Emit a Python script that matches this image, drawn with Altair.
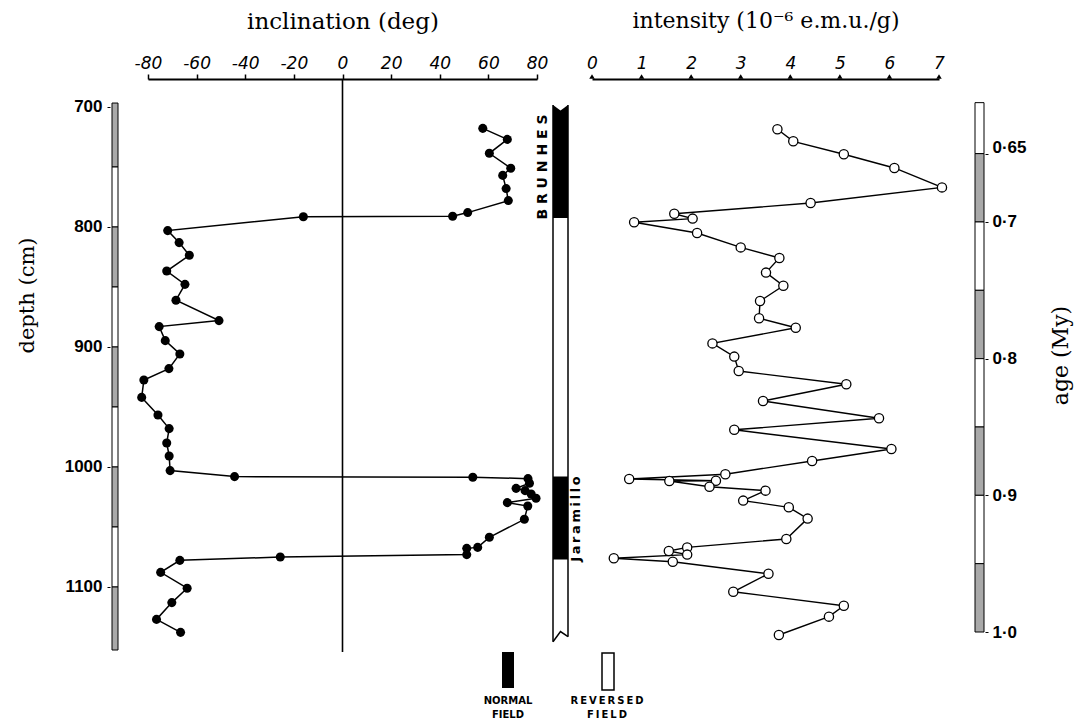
import altair as alt
import pandas as pd

# ---------------- data ----------------
inc_depth = [717.8, 727, 738.6, 751, 757, 768, 778, 788, 791, 791.5, 803, 813, 823.6,
             836.7, 847.8, 861, 878, 883, 894.7, 905.8, 918, 927.5, 942, 956.7, 968,
             980, 990.8, 1003, 1008, 1008.5, 1009.7, 1013.6, 1017.8, 1019.7, 1022.5,
             1026, 1029.7, 1032.5, 1043.6, 1058.6, 1067, 1067.8, 1073, 1075, 1077.8,
             1087.8, 1101, 1113, 1127, 1137.8]
inc_value = [57.7, 67.8, 60.4, 69.2, 65.9, 67.3, 68.2, 51.5, 45.3, -16.1, -71.9, -67.2,
             -63.0, -72.3, -64.8, -68.5, -50.8, -75.4, -72.9, -66.9, -71.4, -81.7, -82.6,
             -75.9, -71.3, -72.3, -71.3, -70.9, -44.4, 53.6, 76.3, 76.9, 71.4, 75.1, 77.6,
             79.6, 67.8, 76.2, 74.8, 60.4, 55.6, 51.1, 51.1, -25.6, -66.9, -74.8, -63.9,
             -70.2, -76.5, -66.6]

int_depth = [718.6, 728.6, 739.4, 750.8, 767, 780, 789, 793, 796, 805, 817, 825.8, 838,
             849, 861.7, 876, 884, 897, 908, 920, 931, 945, 959.4, 969, 985, 995, 1006,
             1010, 1011.4, 1011.7, 1016.4, 1019.7, 1028, 1033.6, 1043, 1060, 1067, 1070,
             1073, 1076, 1079, 1089, 1104, 1115.6, 1124.7, 1140]
int_value = [3.74, 4.06, 5.08, 6.10, 7.06, 4.41, 1.66, 2.03, 0.85, 2.12, 3.0, 3.78, 3.51,
             3.86, 3.39, 3.37, 4.11, 2.43, 2.87, 2.96, 5.13, 3.45, 5.79, 2.87, 6.04, 4.44,
             2.69, 0.75, 2.5, 1.56, 2.37, 3.50, 3.05, 3.97, 4.35, 3.92, 1.92, 1.55, 1.92,
             0.44, 1.63, 3.56, 2.85, 5.08, 4.78, 3.77]

# polarity column (depth, cm)
normal_top = [698.3, 1008]
normal_bot = [792.5, 1077]
column_top = 698.3
column_bot_left = 1145.6
column_bot_mid = 1137.2
column_bot_right = 1141.4
notch_apex = 703

# depth ruler segments (cm)
depth_seg_top = [696.7, 750, 800, 850, 900, 950, 1000, 1050, 1100]
depth_seg_bot = [750, 800, 850, 900, 950, 1000, 1050, 1100, 1152.5]
depth_seg_kind = ["hatched", "white", "hatched", "white", "hatched", "white",
                  "hatched", "white", "hatched"]

# age ruler segments (My)
age_seg_top = [0.6127, 0.65, 0.70, 0.75, 0.80, 0.85, 0.90, 0.95]
age_seg_bot = [0.65, 0.70, 0.75, 0.80, 0.85, 0.90, 0.95, 1.0]
age_seg_kind = ["white", "hatched", "white", "hatched", "white", "hatched", "white", "hatched"]

depth_ticks = [700, 800, 900, 1000, 1100]
inc_ticks = [-80, -60, -40, -20, 0, 20, 40, 60, 80]
int_ticks = [0, 1, 2, 3, 4, 5, 6, 7]
age_ticks = [0.65, 0.7, 0.8, 0.9, 1.0]

# ---------------- layout ----------------
H = 574
DEPTH_DOMAIN = [676.67, 1155]
AGE_DOMAIN = [0.5954, 1.01536]
SERIF = "DejaVu Serif"
SANS = "DejaVu Sans"
NUM = "Liberation Sans"

yscale = alt.Scale(domain=DEPTH_DOMAIN, reverse=True, nice=False, zero=False)
seg_fill = alt.Scale(domain=["white", "hatched"], range=["white", "#a9a9a9"])

# Panel 1: depth ruler + depth axis
seg_df = pd.DataFrame({"top": depth_seg_top, "bot": depth_seg_bot, "kind": depth_seg_kind})
depth_axis = alt.Axis(values=depth_ticks, format="d", title="depth (cm)", titleFont=SERIF,
                      titleFontSize=21, titleFontWeight="normal", titleColor="black",
                      titleX=-83, titleY=216, titleAngle=270, titleAlign="center",
                      titleBaseline="middle",
                      labelFont=NUM, labelFontWeight="bold", labelFontSize=17,
                      labelColor="black", labelPadding=5, domain=False, tickSize=3,
                      tickColor="black", grid=False)
p1 = alt.Chart(seg_df).mark_rect(stroke="black", strokeWidth=1).encode(
    x=alt.value(2), x2=alt.value(8),
    y=alt.Y("top:Q", scale=yscale, axis=depth_axis), y2="bot:Q",
    fill=alt.Fill("kind:N", scale=seg_fill, legend=None),
).properties(width=28, height=H)

# Panel 2: inclination
inc_df = pd.DataFrame({"i": range(len(inc_depth)), "depth": inc_depth, "inc": inc_value})
inc_axis = alt.Axis(orient="top", values=inc_ticks, title="inclination (deg)",
                    labelExpr="toString(datum.value)", labelFont=SANS, labelFlush=False,
                    labelFontStyle="italic", labelFontSize=17, labelColor="black",
                    labelPadding=2, tickSize=5, tickWidth=1.5, tickColor="black",
                    domainWidth=2, domainColor="black", titleFont=SERIF,
                    titleFontSize=23, titleFontWeight="normal", titleColor="black",
                    titlePadding=21, grid=False)
xinc = alt.X("inc:Q", scale=alt.Scale(domain=[-80, 80], nice=False, zero=False), axis=inc_axis)
yd = alt.Y("depth:Q", scale=yscale, axis=None)
inc_base = alt.Chart(inc_df)
inc_line = inc_base.mark_line(color="black", strokeWidth=1.5).encode(x=xinc, y=yd, order="i:Q")
inc_pts = inc_base.mark_circle(size=82, color="black", opacity=1).encode(x=xinc, y=yd)
zero_rule = alt.Chart(pd.DataFrame({"z": [0]})).mark_rule(color="black", strokeWidth=1.6).encode(
    x=alt.X("z:Q"), y=alt.value(0), y2=alt.value(573))
p2 = alt.layer(zero_rule, inc_line, inc_pts).properties(width=389, height=H)

# Panel 3: polarity column + legend
pscale = alt.Scale(domain=[0, 35], nice=False, zero=False)
norm_df = pd.DataFrame({"top": normal_top, "bot": normal_bot})
col_black = alt.Chart(norm_df).mark_rect(color="black").encode(
    x=alt.value(6), x2=alt.value(21),
    y=alt.Y("top:Q", scale=yscale, axis=None), y2="bot:Q")
edge_df = pd.DataFrame({"xe": [6, 21], "top": [column_top, column_top],
                        "bot": [column_bot_left, column_bot_right]})
col_edges = alt.Chart(edge_df).mark_rule(color="black", strokeWidth=1.5).encode(
    x=alt.X("xe:Q", scale=pscale, axis=None),
    y=alt.Y("top:Q", scale=yscale, axis=None), y2="bot:Q")
notch_df = pd.DataFrame({"xn": [6, 13.5, 21], "y1": [column_top] * 3,
                         "y2": [column_top, notch_apex, column_top]})
col_notch = alt.Chart(notch_df).mark_area(color="white", orient="vertical").encode(
    x=alt.X("xn:Q", scale=pscale, axis=None),
    y=alt.Y("y1:Q", scale=yscale, axis=None), y2="y2:Q")
bottom_df = pd.DataFrame({"k": [0, 1, 2], "xb": [6, 13.5, 21],
                          "yb": [column_bot_left, column_bot_mid, column_bot_right]})
col_bottom = alt.Chart(bottom_df).mark_line(color="black", strokeWidth=1.5).encode(
    x=alt.X("xb:Q", scale=pscale, axis=None),
    y=alt.Y("yb:Q", scale=yscale, axis=None), order="k:Q")
brunhes = alt.Chart(pd.DataFrame({"t": ["B R U N H E S"]})).mark_text(
    angle=270, font=SANS, fontSize=14, fontWeight="bold", color="black").encode(
    text="t:N", x=alt.value(-4), y=alt.value(88))
jaramillo = alt.Chart(pd.DataFrame({"t": ["J\u2009a\u2009r\u2009a\u2009m\u2009i\u2009l\u2009l\u2009o"]})).mark_text(
    angle=270, font=SANS, fontSize=13, fontWeight="bold", color="black").encode(
    text="t:N", x=alt.value(29), y=alt.value(440))
leg_black = alt.Chart(pd.DataFrame({"a": [1]})).mark_rect(color="black").encode(
    x=alt.value(-45), x2=alt.value(-33), y=alt.value(573), y2=alt.value(609))
leg_white = alt.Chart(pd.DataFrame({"a": [1]})).mark_rect(
    fill="white", stroke="black", strokeWidth=1.5).encode(
    x=alt.value(55), x2=alt.value(67), y=alt.value(574), y2=alt.value(611))
leg_text1 = alt.Chart(pd.DataFrame({"t": [["NORMAL", "FIELD"]]})).mark_text(
    font=SANS, fontSize=10, fontWeight="bold", color="black", lineHeight=14,
    baseline="top").encode(text="t", x=alt.value(-39), y=alt.value(617))
leg_text2 = alt.Chart(pd.DataFrame({"t": [["R\u2009E\u2009V\u2009E\u2009R\u2009S\u2009E\u2009D", "F\u2009I\u2009E\u2009L\u2009D"]]})).mark_text(
    font=SANS, fontSize=10, fontWeight="bold", color="black", lineHeight=14,
    baseline="top").encode(text="t", x=alt.value(60), y=alt.value(617))
p3 = alt.layer(col_black, col_notch, col_edges, col_bottom, brunhes, jaramillo,
               leg_black, leg_white, leg_text1, leg_text2).properties(width=35, height=H)

# Panel 4: intensity
int_df = pd.DataFrame({"i": range(len(int_depth)), "depth": int_depth, "val": int_value})
int_axis = alt.Axis(orient="top", values=int_ticks, title="intensity (10\u207b\u2076 e.m.u./g)",
                    labelFont=SANS, labelFontStyle="italic", labelFontSize=17, labelFlush=False,
                    labelColor="black", labelPadding=7, ticks=False, domainWidth=2,
                    domainColor="black", titleFont=SERIF, titleFontSize=22,
                    titleFontWeight="normal", titleColor="black", titlePadding=22,
                    grid=False)
xint = alt.X("val:Q", scale=alt.Scale(domain=[0, 7], nice=False, zero=False), axis=int_axis)
int_base = alt.Chart(int_df)
int_line = int_base.mark_line(color="black", strokeWidth=1.4).encode(x=xint, y=yd, order="i:Q")
int_pts = int_base.mark_point(filled=True, fill="white", stroke="black", strokeWidth=1.3,
                              size=85, opacity=1).encode(x=xint, y=yd)
tri = alt.Chart(pd.DataFrame({"val": int_ticks})).mark_point(
    shape="triangle-up", filled=True, color="black", size=30, opacity=1).encode(
    x=alt.X("val:Q"), y=alt.value(-2.5))
p4 = alt.layer(int_line, int_pts, tri).properties(width=347, height=H)

# Panel 5: age ruler
age_df = pd.DataFrame({"top": age_seg_top, "bot": age_seg_bot, "kind": age_seg_kind})
age_axis = alt.Axis(orient="right", values=age_ticks, title="age (My)",
                    labelExpr="indexof(format(datum.value,'.2~f'),'.')<0 ? format(datum.value,'.2~f')+'\u00b70' : replace(format(datum.value,'.2~f'),'.','\u00b7')",
                    labelOffset={"condition": {"test": "datum.value == 0.65", "value": -6}, "value": 0},
                    labelFont=NUM, labelFontWeight="bold", labelFontSize=17,
                    labelColor="black", labelPadding=4, domain=False, tickSize=3,
                    tickColor="black", titleFont=SERIF, titleFontSize=22,
                    titleFontWeight="normal", titleColor="black", titleX=75, titleY=276,
                    titleAngle=270, titleAlign="center", titleBaseline="middle", grid=False)
p5 = alt.Chart(age_df).mark_rect(stroke="black", strokeWidth=1).encode(
    x=alt.value(26), x2=alt.value(35),
    y=alt.Y("top:Q", scale=alt.Scale(domain=AGE_DOMAIN, reverse=True, nice=False, zero=False),
            axis=age_axis),
    y2="bot:Q",
    fill=alt.Fill("kind:N", scale=seg_fill, legend=None),
).properties(width=36, height=H)

chart = alt.hconcat(p1, p2, p3, p4, p5, spacing=10, bounds="flush").resolve_scale(
    x="independent", y="independent", fill="independent"
).configure_view(stroke=None).properties(
    padding={"left": 16, "top": 9, "right": 5, "bottom": 2}, background="white")

chart.save("out.html", embed_options={"renderer": "svg", "actions": False})
